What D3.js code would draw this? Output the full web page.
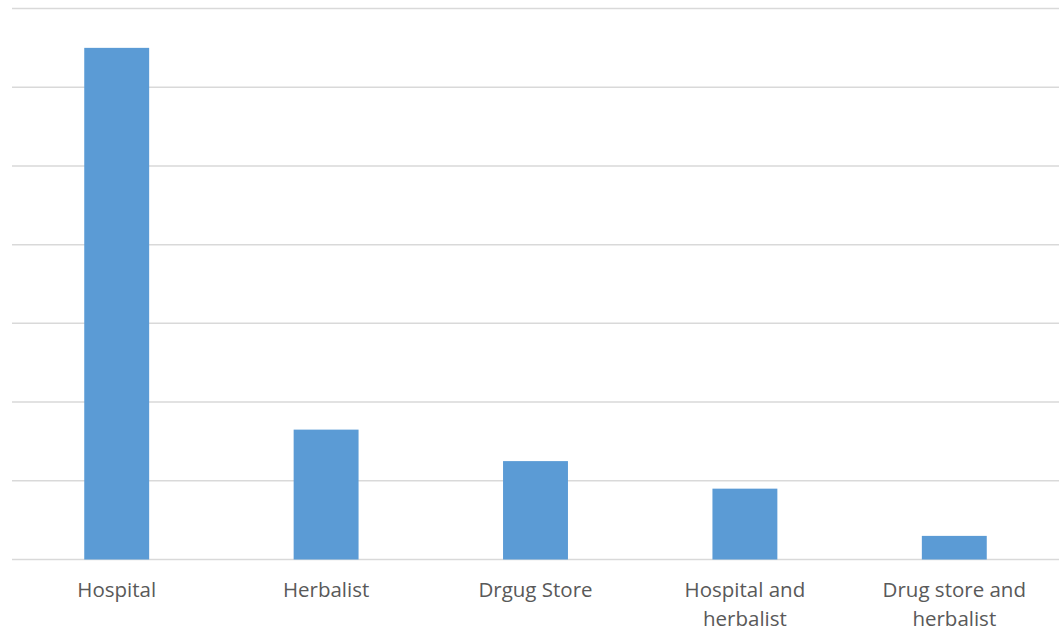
<!DOCTYPE html>
<html><head><meta charset="utf-8">
<script src="https://cdn.jsdelivr.net/npm/d3@7"></script>
<style>body{margin:0;background:#fff}svg{display:block}</style>
</head><body><svg id="c" width="1063" height="630"></svg>
<script>
const categories = ["Hospital","Herbalist","Drgug Store","Hospital and herbalist","Drug store and herbalist"];
const labelLines = [["Hospital"],["Herbalist"],["Drgug Store"],["Hospital and","herbalist"],["Drug store and","herbalist"]];
const values = [65, 16.5, 12.5, 9, 3];
const yTicks = [0,10,20,30,40,50,60,70];

(function(){
const svg = d3.select("#c");
const mLeft = 12, mRight = 1059, mTop = 8.5, mBottom = 559.5;
const x = d3.scaleBand().domain(categories).range([mLeft,mRight]).paddingInner(0.69).paddingOuter(0.345);
const y = d3.scaleLinear().domain([0,70]).range([mBottom,mTop]);

svg.append("g").selectAll("line").data(yTicks).join("line")
  .attr("x1",mLeft).attr("x2",mRight)
  .attr("y1",d=>y(d)).attr("y2",d=>y(d))
  .attr("stroke","#d9d9d9").attr("stroke-width",1.5);

svg.append("g").selectAll("rect").data(values).join("rect")
  .attr("x",(d,i)=>x(categories[i])).attr("width",x.bandwidth())
  .attr("y",d=>y(d)).attr("height",d=>y(0)-y(d))
  .attr("fill","#5b9bd5");

const lg = svg.append("g").attr("font-family","'Open Sans', sans-serif").attr("font-size",20.5).attr("fill","#595959").attr("text-anchor","middle");
labelLines.forEach((lines,i)=>{
  const cx = x(categories[i]) + x.bandwidth()/2;
  const t = lg.append("text").attr("x",cx).attr("y",597);
  lines.forEach((l,j)=>t.append("tspan").attr("x",cx).attr("dy",j?28.5:0).text(l));
});
})();
</script></body></html>
